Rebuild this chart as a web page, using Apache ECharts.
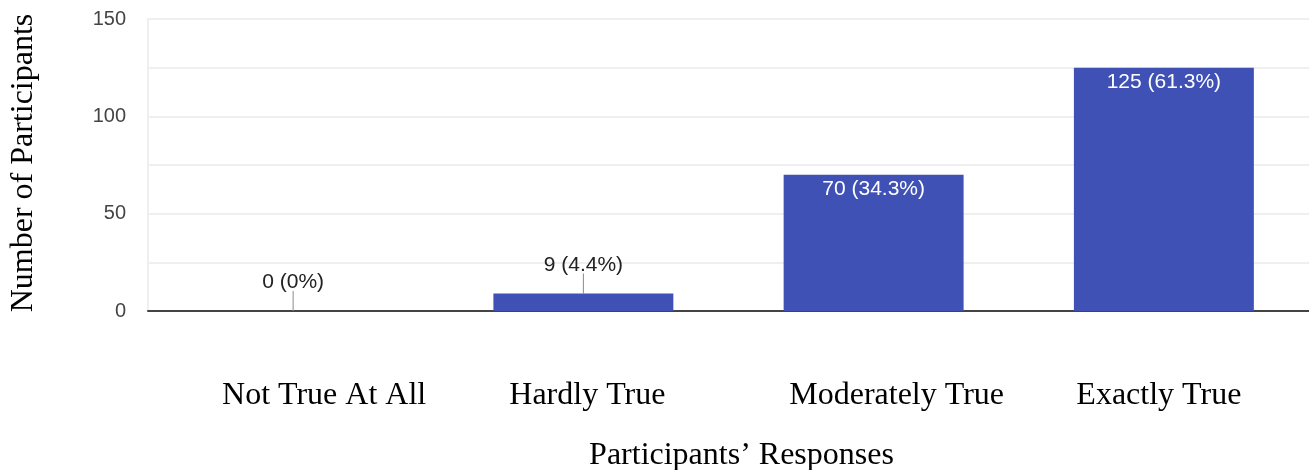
<!DOCTYPE html>
<html>
<head>
<meta charset="utf-8">
<script src="https://cdn.jsdelivr.net/npm/echarts@6/dist/echarts.min.js"></script>
<style>
  html, body { margin: 0; padding: 0; background: #fff; }
  #chart { width: 1309px; height: 470px; }
</style>
</head>
<body>
<div id="chart"></div>
<script>
const categories = ['Not True At All', 'Hardly True', 'Moderately True', 'Exactly True'];
const counts = [0, 9, 70, 125];
const percents = ['0%', '4.4%', '34.3%', '61.3%'];
const yTicks = [0, 50, 100, 150];

// horizontal nudge (px) for each category caption
const captionShift = [31, 4, 23, -5];
// counts below this get their label above the bar with a leader tick
const insideThreshold = 30;

const barColor = '#3f51b5';
const serif = '"Liberation Serif", "Times New Roman", serif';
const sans = '"Liberation Sans", Arial, sans-serif';

const xData = categories.map((c, i) => {
  const d = captionShift[i];
  return {
    value: c,
    textStyle: { padding: d >= 0 ? [0, 0, 0, 2 * d] : [0, -2 * d, 0, 0] }
  };
});

const barData = counts.map((v, i) => {
  const text = v + ' (' + percents[i] + ')';
  if (v < insideThreshold) {
    return {
      value: v,
      label: {
        show: true,
        position: 'top',
        distance: 0,
        formatter: '{t|' + text + '}\n{l|}',
        rich: {
          t: { fontFamily: sans, fontSize: 21, color: '#222', lineHeight: 17, align: 'center' },
          l: { width: 1, height: 20, backgroundColor: '#8a8a8a', align: 'center' }
        }
      }
    };
  }
  return {
    value: v,
    label: {
      show: true,
      position: 'insideTop',
      distance: 4,
      formatter: text,
      fontFamily: sans,
      fontSize: 21,
      color: '#fff'
    }
  };
});

const chart = echarts.init(document.getElementById('chart'), null, { renderer: 'canvas' });
chart.setOption({
  animation: false,
  backgroundColor: '#fff',
  grid: { left: 148, right: 0, top: 19, bottom: 159, containLabel: false, outerBoundsMode: 'none' },
  xAxis: {
    type: 'category',
    data: xData,
    axisTick: { show: false },
    axisLine: { lineStyle: { color: '#444', width: 2 } },
    axisLabel: { fontFamily: serif, fontSize: 32, color: '#000', margin: 69, interval: 0 },
    name: 'Participants\u2019 Responses',
    nameLocation: 'middle',
    nameGap: 129,
    nameTextStyle: { fontFamily: serif, fontSize: 32, color: '#000', padding: [0, 0, 0, 26] }
  },
  yAxis: {
    type: 'value',
    min: 0,
    max: 150,
    interval: 25,
    axisLine: { show: true, lineStyle: { color: '#efefef', width: 2 } },
    axisTick: { show: false },
    splitLine: { lineStyle: { color: '#efefef', width: 2 } },
    axisLabel: {
      fontFamily: sans,
      fontSize: 20,
      color: '#444',
      margin: 22,
      formatter: v => (yTicks.includes(v) ? String(v) : '')
    },
    name: 'Number of Participants',
    nameLocation: 'middle',
    nameGap: 108,
    nameTextStyle: { fontFamily: serif, fontSize: 32, color: '#000', padding: [0, 0, 0, 4] }
  },
  series: [{
    type: 'bar',
    data: barData,
    barWidth: '62%',
    itemStyle: { color: barColor }
  }]
});
</script>
</body>
</html>
